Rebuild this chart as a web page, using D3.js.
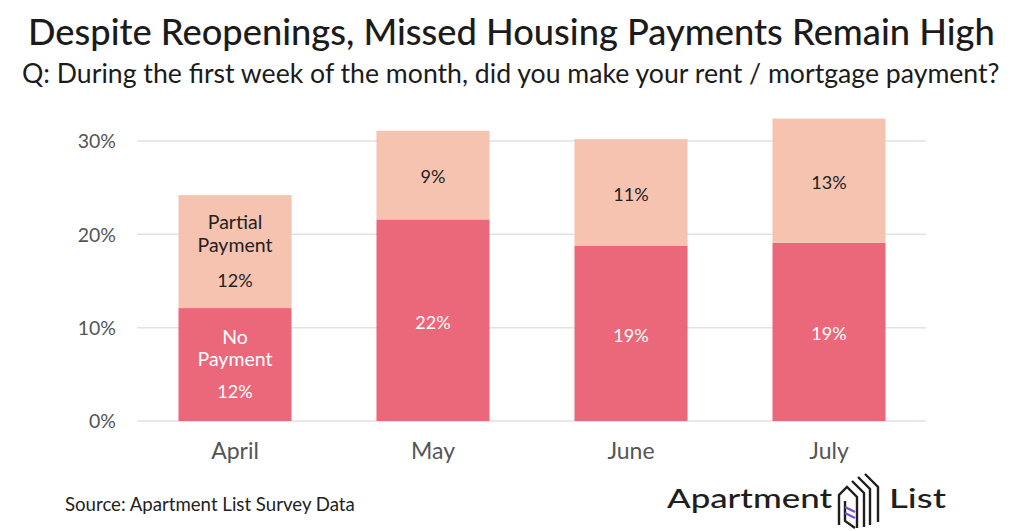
<!DOCTYPE html>
<html><head><meta charset="utf-8">
<script src="https://cdn.jsdelivr.net/npm/d3@7"></script>
<style>
html,body{margin:0;padding:0;background:#fff;}
svg{display:block;font-family:Lato,"Noto Sans",sans-serif;}
</style></head>
<body>
<svg id="chart" width="1024" height="531"></svg>
<script>
const months = ["April", "May", "June", "July"];
const noPayment = [12.1, 21.6, 18.8, 19.1];
const partialPayment = [12.1, 9.5, 11.4, 13.3];
const noPaymentLabels = ["12%", "22%", "19%", "19%"];
const partialLabels = ["12%", "9%", "11%", "13%"];
const yTicks = [0, 10, 20, 30];

const svg = d3.select("#chart");
const x = d3.scaleBand().domain(months).range([136, 928]).paddingInner(0.429).paddingOuter(0.2145);
const y = d3.scaleLinear().domain([0, 30]).range([421, 141]);

function fit(sel, w){
  const n = sel.node();
  const fs = parseFloat(sel.attr("font-size"));
  const len = n.getComputedTextLength();
  sel.attr("font-size", (fs * w / len).toFixed(2));
}

// title
const t1 = svg.append("text").attr("x", 28).attr("y", 45).attr("font-size", 30)
  .attr("font-weight", 500).attr("fill", "#1b1b1b")
  .text("Despite Reopenings, Missed Housing Payments Remain High");
fit(t1, 967);
const t2 = svg.append("text").attr("x", 22).attr("y", 83).attr("font-size", 22)
  .attr("fill", "#1b1b1b")
  .text("Q: During the first week of the month, did you make your rent / mortgage payment?");
fit(t2, 978);

// grid
svg.append("g").selectAll("line").data(yTicks).join("line")
  .attr("x1", 137).attr("x2", 926)
  .attr("y1", d => y(d)).attr("y2", d => y(d))
  .attr("stroke", "#e6e0e3").attr("stroke-width", 1.5);

// y axis labels
const yAxis = d3.axisLeft(y).tickValues(yTicks).tickFormat(d => d + "%").tickSize(0).tickPadding(0);
const ya = svg.append("g").attr("transform", "translate(116,0)").call(yAxis);
ya.select(".domain").remove();
ya.selectAll("text").attr("font-size", 19.5).attr("fill", "#555").attr("font-family", "Lato, sans-serif").attr("dy", "0.35em");

// bars
const bars = svg.append("g");
bars.selectAll("rect.np").data(months).join("rect").attr("class", "np")
  .attr("x", d => x(d)).attr("width", x.bandwidth())
  .attr("y", (d, i) => y(noPayment[i]))
  .attr("height", (d, i) => y(0) - y(noPayment[i]))
  .attr("fill", "#ea687a");
bars.selectAll("rect.pp").data(months).join("rect").attr("class", "pp")
  .attr("x", d => x(d)).attr("width", x.bandwidth())
  .attr("y", (d, i) => y(noPayment[i] + partialPayment[i]))
  .attr("height", (d, i) => y(noPayment[i]) - y(noPayment[i] + partialPayment[i]))
  .attr("fill", "#f6c3b1");

// bar labels
const lab = svg.append("g").attr("text-anchor", "middle").attr("font-size", 18);
months.forEach((m, i) => {
  const cx = x(m) + x.bandwidth() / 2;
  const npMid = (y(0) + y(noPayment[i])) / 2;
  const ppMid = (y(noPayment[i]) + y(noPayment[i] + partialPayment[i])) / 2;
  if (i === 0) {
    [["Partial", -29], ["Payment", -6], [partialLabels[i], 29]].forEach(([t, dy]) =>
      lab.append("text").attr("x", cx).attr("y", ppMid + dy).attr("dy", "0.35em")
        .attr("fill", "#222").attr("font-size", dy > 0 ? 18 : 19.5).text(t));
    [["No", -27], ["Payment", -5], [noPaymentLabels[i], 27]].forEach(([t, dy]) =>
      lab.append("text").attr("x", cx).attr("y", npMid + dy).attr("dy", "0.35em")
        .attr("fill", "#fff").attr("font-size", dy > 0 ? 18 : 19.5).text(t));
  } else {
    lab.append("text").attr("x", cx).attr("y", ppMid + 2).attr("dy", "0.35em").attr("fill", "#222").text(partialLabels[i]);
    lab.append("text").attr("x", cx).attr("y", npMid + 2).attr("dy", "0.35em").attr("fill", "#fff").text(noPaymentLabels[i]);
  }
});

// x axis labels
const xAxis = d3.axisBottom(x).tickSize(0).tickPadding(0);
const xa = svg.append("g").attr("transform", "translate(0,451)").call(xAxis);
xa.select(".domain").remove();
xa.selectAll("text").attr("font-size", 23).attr("fill", "#555").attr("font-family", "Lato, sans-serif").attr("dy", "0.35em");

// source
const src = svg.append("text").attr("x", 65).attr("y", 511).attr("font-size", 15).attr("fill", "#222")
  .text("Source: Apartment List Survey Data");
fit(src, 290);

// logo
const lg = svg.append("g");
lg.append("text").attr("x", 667).attr("y", 508).attr("font-size", 27).attr("font-weight", 500)
  .attr("fill", "#1e1e1e").attr("textLength", 165).attr("lengthAdjust", "spacingAndGlyphs").text("Apartment");
lg.append("text").attr("x", 889).attr("y", 508).attr("font-size", 27).attr("font-weight", 500)
  .attr("fill", "#1e1e1e").attr("textLength", 57).attr("lengthAdjust", "spacingAndGlyphs").text("List");
const dk = "#1e1e1e";
const paths = [
  "M839,525 L839,495 L847,487 L857,497 L857,528",
  "M845,501 L845,521 L855,528",
  "M852,481 L864,493 L864,527",
  "M858,477 L870,489 L870,525",
  "M865,474 L878,487 L878,522"
];
lg.selectAll("path.ic").data(paths).join("path").attr("class", "ic").attr("d", d => d)
  .attr("fill", "none").attr("stroke", dk).attr("stroke-width", 2.4).attr("stroke-linejoin", "miter");
lg.selectAll("path.pu").data(["M845,507 L855,512", "M845,513 L855,518"]).join("path").attr("class", "pu").attr("d", d => d)
  .attr("fill", "none").attr("stroke", "#7b4fe0").attr("stroke-width", 2.4);
</script>
</body></html>
